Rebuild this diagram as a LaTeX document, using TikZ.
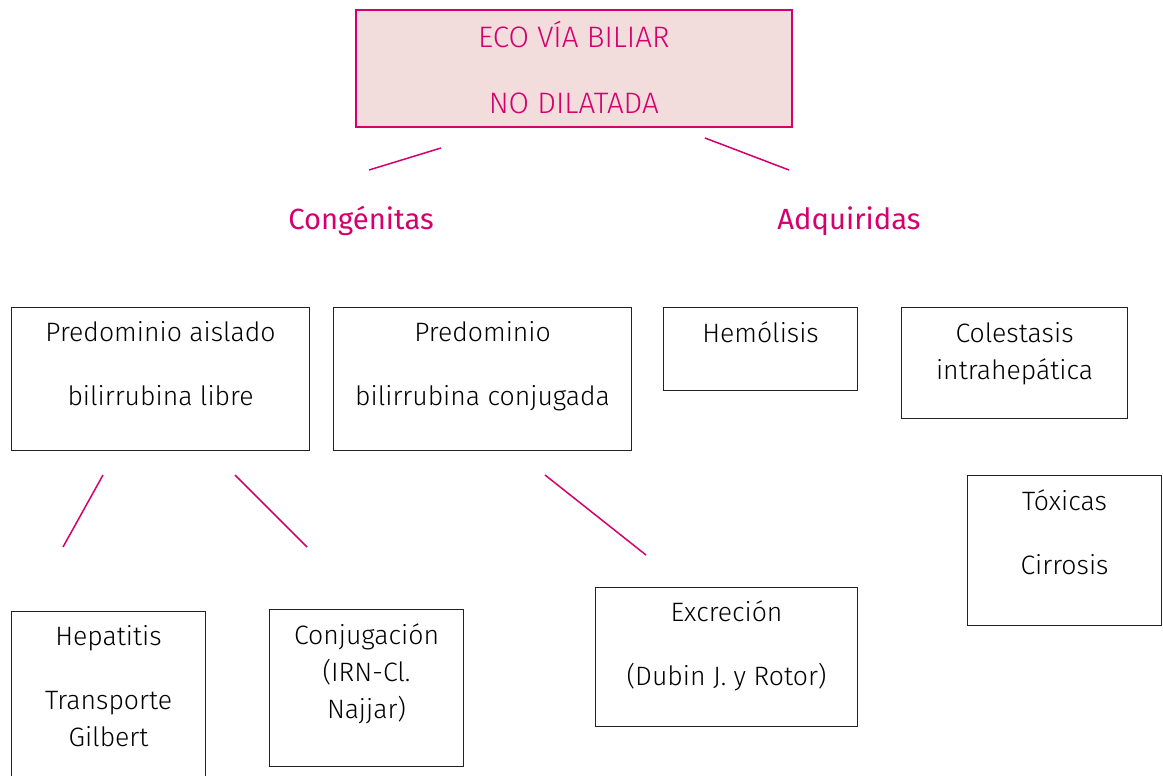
\documentclass[tikz,border=0pt]{standalone}
\usepackage{fontspec}
\setmainfont{Fira Sans}[UprightFont={* Light}, BoldFont={*}]
\usetikzlibrary{positioning,calc}
\definecolor{magCol}{HTML}{D5006D}
\definecolor{rootFill}{HTML}{F2DCDC}
\definecolor{boxLine}{HTML}{222222}

\begin{document}
\begin{tikzpicture}[
    x=0.5pt, y=-0.5pt,
    font=\fontsize{13.3}{18.5}\selectfont,
    box/.style={draw=boxLine, line width=0.55pt, anchor=north west, inner sep=0pt},
    root/.style={box, draw=magCol, fill=rootFill, line width=0.8pt},
    txt/.style={anchor=base, align=center, inner sep=0pt},
    cat/.style={text=magCol, font=\fontsize{14.6}{16}\bfseries},
    link/.style={draw=magCol, line width=0.75pt},
  ]
\useasboundingbox (0,0) rectangle (1163,776);

% Root
\node[root, minimum width=218pt, minimum height=58.5pt] (eco) at (355,9) {};
\node[txt, text=magCol, font=\fontsize{14.8}{18.5}\selectfont] (tEco) at ($(eco.north)+(0,104)$)
  {ECO VÍA BILIAR\\[14.5pt]NO DILATADA};

% Two groups
\node[cat] (cong) at (361,221) {Congénitas};
\node[cat] (adq) at (849,221) {Adquiridas};

% Congenital branches
\node[box, minimum width=149pt, minimum height=71.5pt] (libre) at (11,307) {};
\node[txt] (tLibre) at ($(libre.north)+(0,98)$) {Predominio aislado\\[13.5pt]bilirrubina libre};
\node[box, minimum width=149pt, minimum height=71.5pt] (conj) at (333,307) {};
\node[txt] (tConj) at ($(conj.north)+(0,98)$) {Predominio\\[13.5pt]bilirrubina conjugada};

% Acquired branches
\node[box, minimum width=97pt, minimum height=41.5pt] (hemo) at (663,307) {};
\node[txt] (tHemo) at ($(hemo.north)+(0,35)$) {Hemólisis};
\node[box, minimum width=113pt, minimum height=55.5pt] (cole) at (901,307) {};
\node[txt] (tCole) at ($(cole.north)+(0,72)$) {Colestasis\\intrahepática};
\node[box, minimum width=97pt, minimum height=75pt] (toxi) at (967,475) {};
\node[txt] (tToxi) at ($(toxi.north)+(0,99)$) {Tóxicas\\[13.5pt]Cirrosis};

% Third level
\node[box, minimum width=97pt, minimum height=90pt] (hepa) at (11,611) {};
\node[txt] (tHepa) at ($(hepa.north)+(0,135)$) {Hepatitis\\[13.5pt]Transporte\\Gilbert};
\node[box, minimum width=97pt, minimum height=78.5pt] (conjug) at (269,609) {};
\node[txt] (tConjug) at ($(conjug.north)+(0,109)$) {Conjugación\\(IRN-Cl.\\Najjar)};
\node[box, minimum width=131pt, minimum height=69.5pt] (excr) at (595,587) {};
\node[txt] (tExcr) at ($(excr.north)+(0,98)$) {Excreción\\[13.5pt](Dubin J. y Rotor)};

% Connectors
\coordinate (eL) at (441,148);
\coordinate (cL) at (369,170);
\coordinate (eR) at (705,138);
\coordinate (aR) at (789,170);
\coordinate (lA) at (103,475);
\coordinate (hA) at (63,547);
\coordinate (lB) at (235,475);
\coordinate (jB) at (307,547);
\coordinate (cC) at (545,475);
\coordinate (xC) at (646,555);
\draw[link] (eL) -- (cL);
\draw[link] (eR) -- (aR);
\draw[link] (lA) -- (hA);
\draw[link] (lB) -- (jB);
\draw[link] (cC) -- (xC);

\end{tikzpicture}
\end{document}
